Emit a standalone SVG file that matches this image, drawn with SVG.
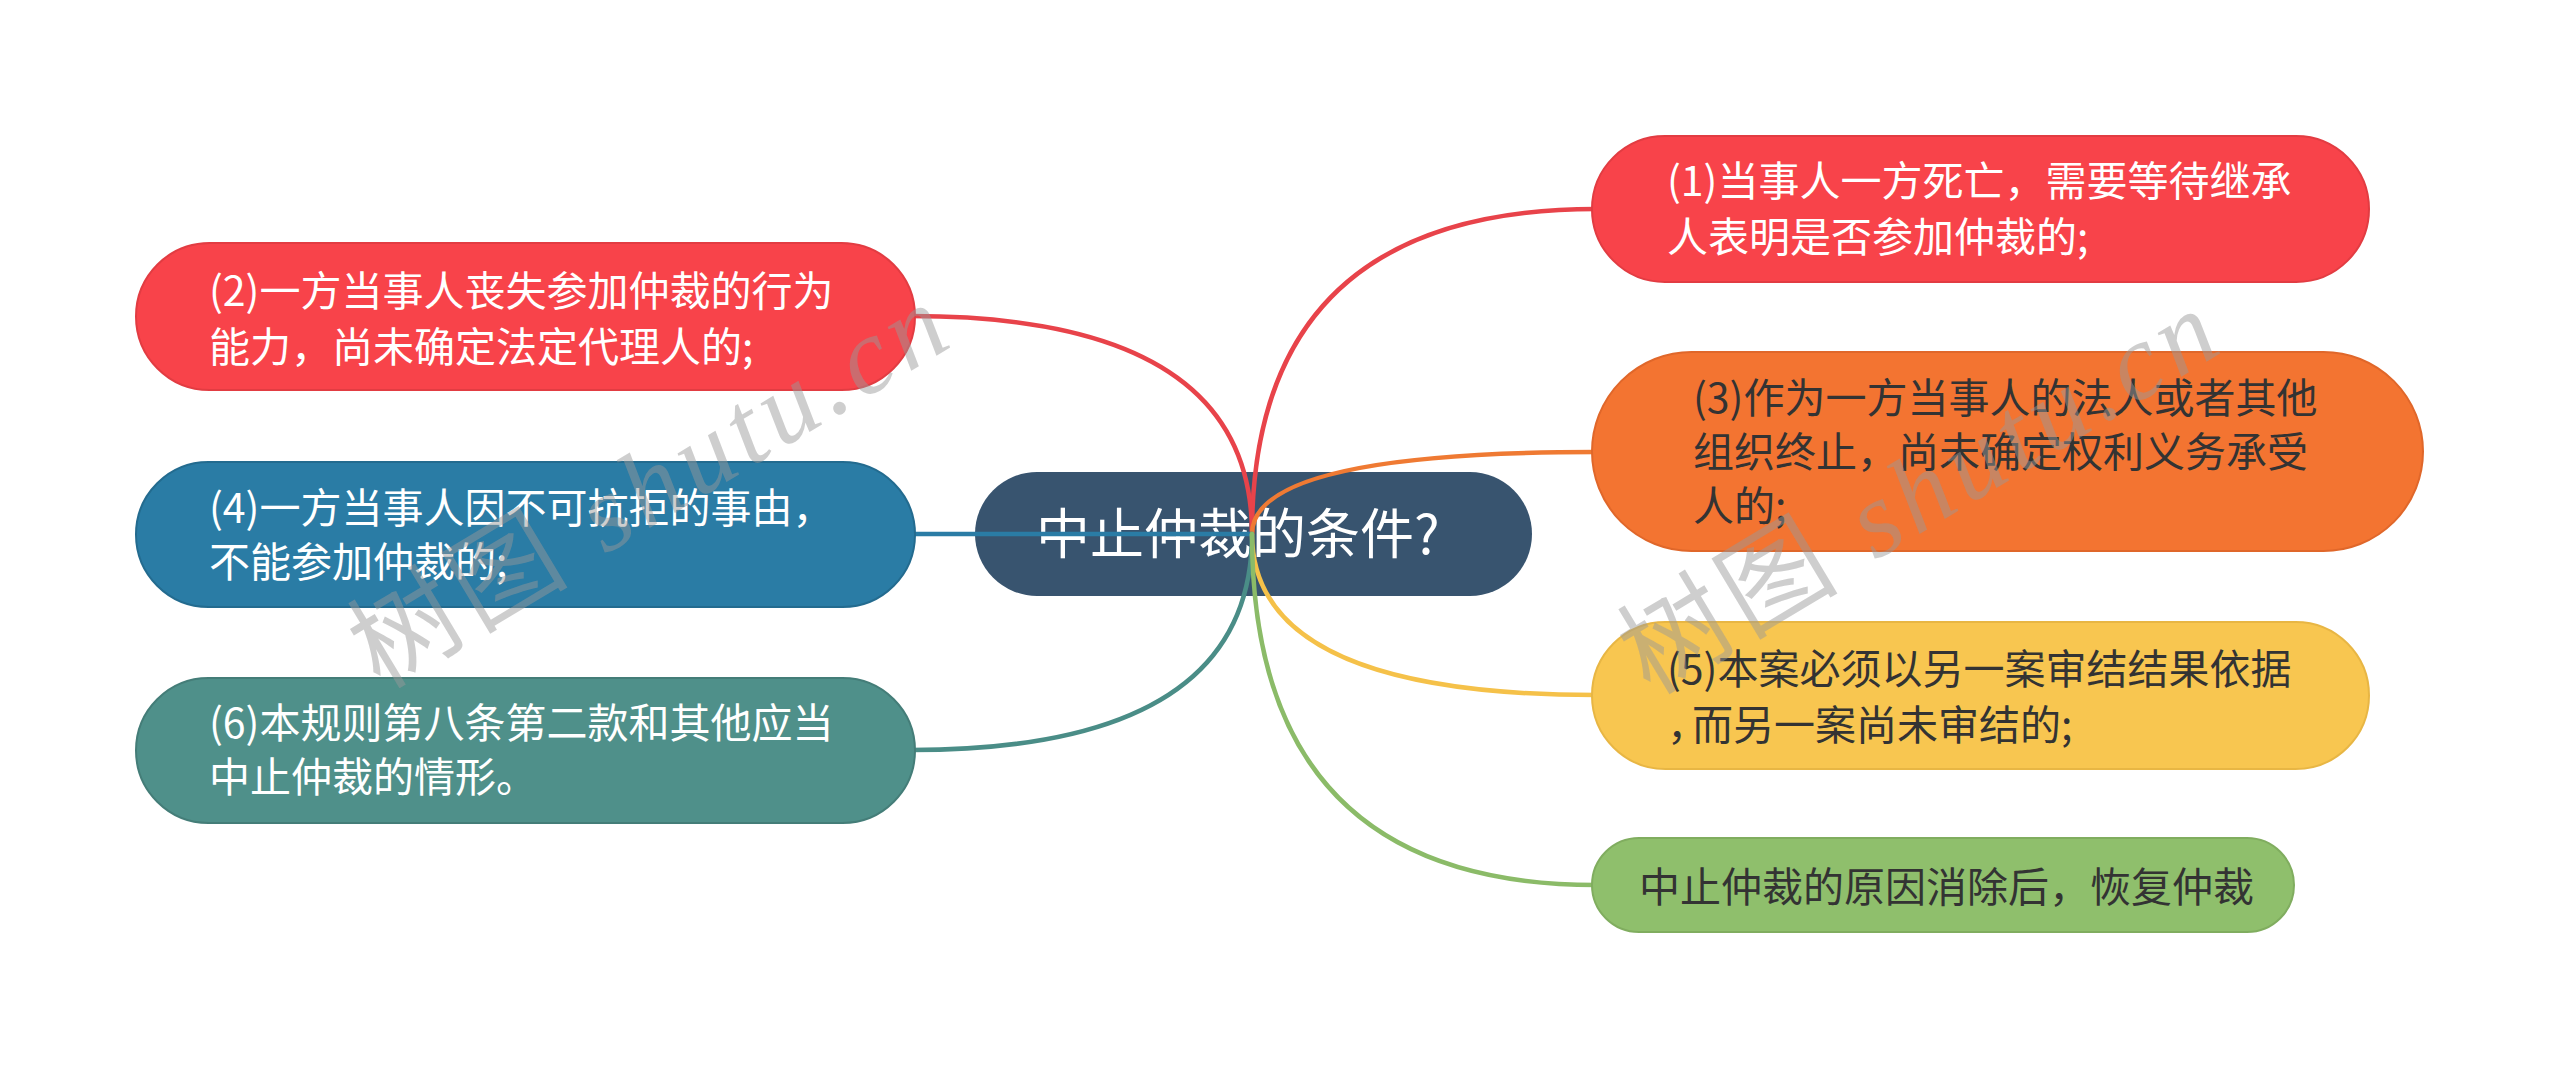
<svg xmlns="http://www.w3.org/2000/svg" width="2560" height="1068" viewBox="0 0 2560 1068">
<style>
.t{font-family:"Noto Sans CJK SC","Noto Sans",sans-serif;font-size:41px}
.w{fill:#ffffff}
.d{fill:#333333}
.c{fill:none;stroke-width:4.5;stroke-linecap:round}
.wm{font-family:"Liberation Serif","Noto Sans CJK SC",serif;font-size:108px;fill:#999999;fill-opacity:0.48}
.it{font-style:italic}
</style>
<rect width="2560" height="1068" fill="#ffffff"/>
<g id="n-center">
<rect x="975" y="472" width="557" height="124" rx="62" fill="#38546f"/>
<text x="1036" y="554" font-family="Noto Sans CJK SC, Noto Sans, sans-serif" font-size="54" fill="#ffffff">中止仲裁的条件?</text>
</g>
<g id="connectors">
<path class="c" stroke="#e8434a" d="M1252 534 Q1252 209 1596 209"/>
<path class="c" stroke="#e8434a" d="M1252 534 Q1252 316 911 316"/>
<path class="c" stroke="#ef7a33" d="M1252 534 Q1252 452 1596 452"/>
<path class="c" stroke="#2a7ca5" d="M1252 534 L911 534"/>
<path class="c" stroke="#f5c149" d="M1252 534 Q1252 695 1596 695"/>
<path class="c" stroke="#4a8d87" d="M1252 534 Q1252 750 911 750"/>
<path class="c" stroke="#8bbb68" d="M1252 534 Q1252 885 1596 885"/>
</g>
<g id="n1">
<rect x="1592" y="136" width="777" height="146" rx="73" fill="#f8434a" stroke="#e23c42" stroke-width="2"/>
<text class="t w" x="1667" y="196">(1)当事人一方死亡，需要等待继承</text>
<text class="t w" x="1667" y="252">人表明是否参加仲裁的;</text>
</g>
<g id="n2">
<rect x="136" y="243" width="779" height="147" rx="73.5" fill="#f8434a" stroke="#e23c42" stroke-width="2"/>
<text class="t w" x="209" y="306">(2)一方当事人丧失参加仲裁的行为</text>
<text class="t w" x="209" y="362">能力，尚未确定法定代理人的;</text>
</g>
<g id="n3">
<rect x="1592" y="352" width="831" height="199" rx="99.5" fill="#f37431" stroke="#e0672a" stroke-width="2"/>
<text class="t d" x="1693" y="413">(3)作为一方当事人的法人或者其他</text>
<text class="t d" x="1693" y="467">组织终止，尚未确定权利义务承受</text>
<text class="t d" x="1693" y="521">人的;</text>
</g>
<g id="n4">
<rect x="136" y="462" width="779" height="145" rx="72.5" fill="#2a7ca5" stroke="#236b8f" stroke-width="2"/>
<text class="t w" x="209" y="523">(4)一方当事人因不可抗拒的事由，</text>
<text class="t w" x="209" y="577">不能参加仲裁的;</text>
</g>
<g id="n5">
<rect x="1592" y="622" width="777" height="147" rx="73.5" fill="#f8c650" stroke="#e8b644" stroke-width="2"/>
<text class="t d" x="1667" y="684">(5)本案必须以另一案审结结果依据</text>
<text class="t d" x="1667" y="740">，<tspan dx="-16">而另一案尚未审结的;</tspan></text>
</g>
<g id="n6">
<rect x="136" y="678" width="779" height="145" rx="72.5" fill="#4f908a" stroke="#447d78" stroke-width="2"/>
<text class="t w" x="209" y="738">(6)本规则第八条第二款和其他应当</text>
<text class="t w" x="209" y="792">中止仲裁的情形。</text>
</g>
<g id="n7">
<rect x="1592" y="838" width="702" height="94" rx="47" fill="#8fbf6c" stroke="#80ad5f" stroke-width="2"/>
<text class="t d" x="1639" y="902">中止仲裁的原因消除后，恢复仲裁</text>
</g>
<g id="watermarks">
<text class="wm" x="380" y="690" transform="rotate(-31 380 690)" textLength="670" lengthAdjust="spacing">树图 <tspan class="it">shutu.cn</tspan></text>
<text class="wm" x="1650" y="696" transform="rotate(-31 1650 696)" textLength="670" lengthAdjust="spacing">树图 <tspan class="it">shutu.cn</tspan></text>
</g>
</svg>
